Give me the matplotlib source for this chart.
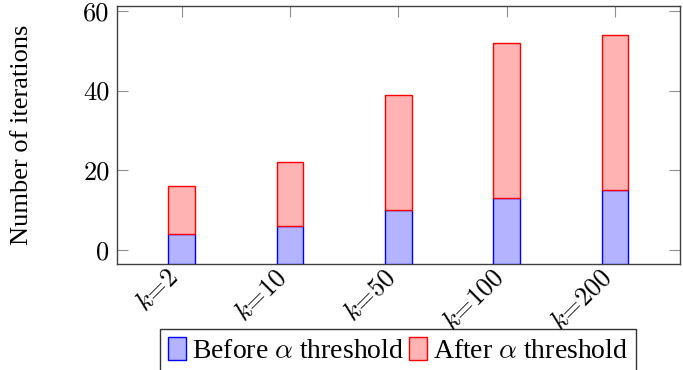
import matplotlib
matplotlib.use("Agg")
import matplotlib.pyplot as plt
import matplotlib.transforms as mtransforms
import numpy as np

categories = ["2", "10", "50", "100", "200"]
before = [4, 6, 10, 13, 15]
after = [12, 16, 29, 39, 39]
yticks = [0, 20, 40, 60]

plt.rcParams['mathtext.fontset'] = 'cm'
plt.rcParams['font.family'] = ['Liberation Serif', 'DejaVu Serif']

YMIN, YMAX = -3.5, 61.3
fig = plt.figure(figsize=(6.83, 3.7), dpi=100)
ax = fig.add_axes([116.5/683, 1-264/370, (680-116.5)/683, (264-5.7)/370])

x = np.arange(len(categories))
w = 0.246
before_h = [b - YMIN for b in before]
ax.bar(x, before_h, w, bottom=YMIN, color='#b3b3ff', edgecolor='blue', linewidth=1.0,
       label=r'Before $\alpha$ threshold', zorder=3)
ax.bar(x, after, w, bottom=before, color='#ffb3b3', edgecolor='red', linewidth=1.0,
       label=r'After $\alpha$ threshold', zorder=3)

ax.set_xlim(-0.6, 4.6)
ax.set_ylim(YMIN, YMAX)
ax.set_xticks(x)
ax.set_xticklabels([r'$k$=%s' % c for c in categories], rotation=45, ha='right',
                   va='center', rotation_mode='anchor', fontsize=19, fontfamily='cmr10')
ax.set_yticks(yticks)
ax.set_yticklabels(['%d' % v for v in yticks], fontsize=19, fontfamily='cmr10')
ax.tick_params(axis='both', direction='in', length=8, width=0.8, color='#909090',
               top=True, right=True, pad=5)
ax.tick_params(axis='x', pad=7)
offset = mtransforms.ScaledTranslation(-5/72, 0, fig.dpi_scale_trans)
for lab in ax.get_xticklabels():
    lab.set_transform(lab.get_transform() + offset)
for s in ax.spines.values():
    s.set_color('#404040')
    s.set_linewidth(1.0)
ax.set_ylabel('Number of iterations', fontsize=19)
ax.yaxis.set_label_coords((33 - 116.5) / (680 - 116.5), 0.5)

leg = fig.legend(loc='upper center', bbox_to_anchor=(398/683, 1-329/370), ncol=2,
                 fontsize=20, frameon=True, fancybox=False, edgecolor='black',
                 handlelength=0.65, handleheight=0.9, handletextpad=0.2,
                 columnspacing=0.2, borderpad=0.3, borderaxespad=0)
leg.get_frame().set_linewidth(1.0)

fig.savefig('out.png', dpi=100)
